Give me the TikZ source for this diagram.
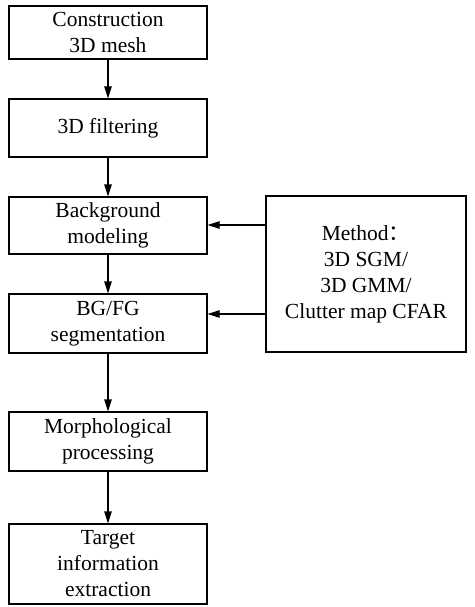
\documentclass[tikz,border=0pt]{standalone}
\usepackage{fontspec}
\setmainfont{Liberation Serif}
\newfontfamily\cjkfont{Noto Sans CJK SC}
\usetikzlibrary{arrows.meta}
\begin{document}
\begin{tikzpicture}[x=1pt,y=1pt,
  stepbox/.style={draw, line width=1.2pt, minimum width=198pt, align=center, inner sep=0pt,
    font=\fontsize{21.5}{26}\selectfont},
  flow/.style={line width=1.2pt, -{Triangle[length=12pt,width=7.5pt]}}]
\useasboundingbox (0,0) rectangle (474,-607);
\node[stepbox, minimum height=53pt] (b1) at (108,-32.5) {Construction\\3D mesh};
\node[stepbox, minimum height=58pt] (b2) at (108,-128) {3D filtering};
\node[stepbox, minimum height=57pt] (b3) at (108,-225.5) {Background\\modeling};
\node[stepbox, minimum height=59pt] (b4) at (108,-323.5) {BG/FG\\segmentation};
\node[stepbox, minimum height=59pt] (b5) at (108,-441.5) {Morphological\\processing};
\node[stepbox, minimum height=80pt] (b6) at (108,-564) {Target\\information\\extraction};
\node[stepbox, minimum width=200pt, minimum height=156pt] (m) at (366,-274)
  {Method{\cjkfont ：}\\3D SGM/\\3D GMM/\\Clutter map CFAR};
\draw[flow] (b1) -- (b2);
\draw[flow] (b2) -- (b3);
\draw[flow] (b3) -- (b4);
\draw[flow] (b4) -- (b5);
\draw[flow] (b5) -- (b6);
\coordinate (a1) at (m.west |- 0,-225);
\coordinate (a2) at (m.west |- 0,-314);
\draw[flow] (a1) -- (a1 -| b3.east);
\draw[flow] (a2) -- (a2 -| b4.east);
\end{tikzpicture}
\end{document}
